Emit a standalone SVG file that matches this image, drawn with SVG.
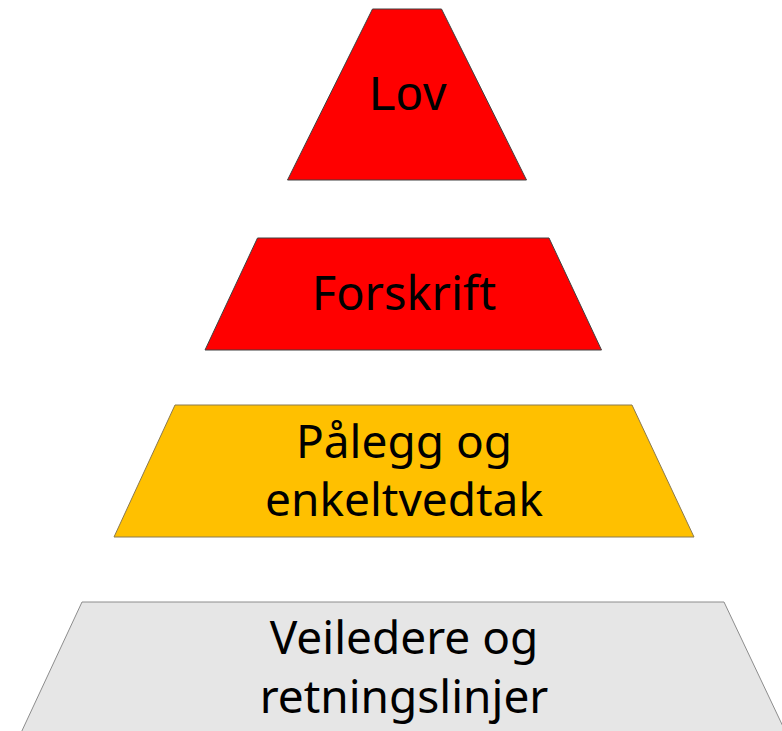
<svg xmlns="http://www.w3.org/2000/svg" width="782" height="731" viewBox="0 0 782 731">
<style>
.shape{stroke:#404040;stroke-width:1;stroke-linejoin:miter}
.red{fill:#FF0000}
.yellow{fill:#FFC000;stroke:#8a7a50}
.grey{fill:#E6E6E6;stroke:#8c8c8c}
.lbl{font-family:"Noto Sans","Open Sans",sans-serif;font-size:46px;fill:#000;text-anchor:middle}
.lov{font-family:"Liberation Sans",Arial,sans-serif;font-size:48px;fill:#000;text-anchor:middle}
</style>
<rect width="782" height="731" fill="#FFFFFF"/>
<g id="connectors"></g>
<g id="lov">
<polygon class="shape red" points="372.5,9 441.5,9 526.5,180 287.5,180"/>
<text class="lov" x="408" y="110">Lov</text>
</g>
<g id="forskrift">
<polygon class="shape red" points="257.5,238 549,238 601.5,350 205,350"/>
<text class="lbl" x="404" y="310" style="font-size:47px">Forskrift</text>
</g>
<g id="palegg">
<polygon class="shape yellow" points="175,405 632,405 694,537 114,537"/>
<text class="lbl" x="404" y="458">Pålegg og</text>
<text class="lbl" x="404" y="516">enkeltvedtak</text>
</g>
<g id="veiledere">
<polygon class="shape grey" points="82,602 724,602 787,735 20,735"/>
<text class="lbl" x="404" y="654">Veiledere og</text>
<text class="lbl" x="404" y="713">retningslinjer</text>
</g>
</svg>
